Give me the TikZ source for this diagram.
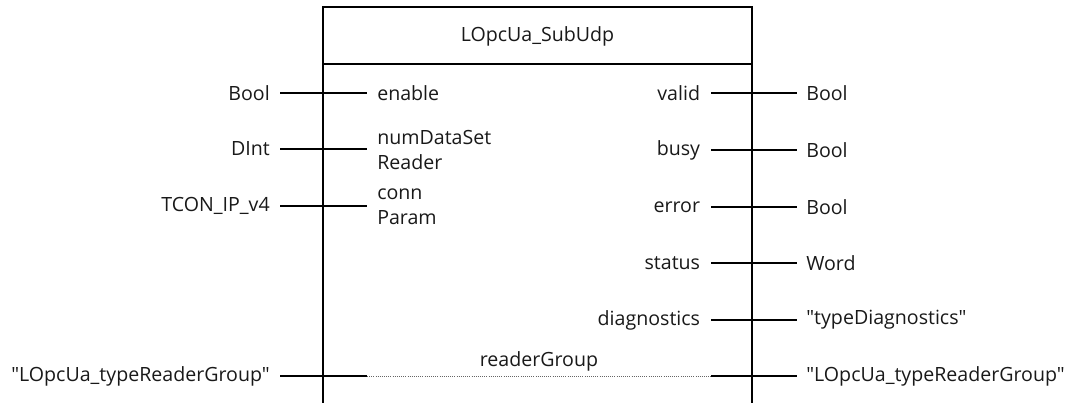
\documentclass[tikz,border=0pt]{standalone}
\usepackage{fontspec}
\setmainfont{Open Sans}[Ligatures=TeXOff]
\begin{document}
\begin{tikzpicture}[x=0.75pt,y=-0.75pt,
  every node/.style={font=\fontsize{14.7}{19}\selectfont, text=black!90},
  typeL/.style={anchor=east, inner xsep=7.5pt, inner ysep=0pt},
  typeR/.style={anchor=west, inner xsep=6.8pt, inner ysep=0pt},
  pinL/.style={anchor=west, inner xsep=7.5pt, inner ysep=0pt, align=left},
  pinR/.style={anchor=east, inner xsep=8pt, inner ysep=0pt, align=right},
  wire/.style={line width=0.8pt},
  frame/.style={line width=0.9pt}]
\useasboundingbox (0,0) rectangle (1072,403);

% block frame, open at the bottom
\draw[frame] (323,403) -- (323,7) -- (752,7) -- (752,403);
\draw[frame] (323,64) -- (752,64);
\node (title) at (537.5,36) {LOpcUa\_SubUdp};

% inputs
\node[typeL] (tEnable) at (280,93) {Bool};
\node[pinL]  (pEnable) at (367,93) {enable};
\node[typeL] (tNum) at (280,149) {DInt};
\node[pinL]  (pNum) at (367,150) {numDataSet\\Reader};
\node[typeL] (tConn) at (280,206) {TCON\_IP\_v4};
\node[pinL]  (pConn) at (367,207) {conn\\Param};

\draw[wire] (tEnable.east) -- (pEnable.west);
\draw[wire] (tNum.east) -- (pNum.west |- tNum.east);
\draw[wire] (tConn.east) -- (pConn.west |- tConn.east);

% outputs
\node[pinR]  (pValid) at (711,93) {valid};
\node[typeR] (tValid) at (797,93) {Bool};
\node[pinR]  (pBusy) at (711,150) {busy};
\node[typeR] (tBusy) at (797,150) {Bool};
\node[pinR]  (pError) at (711,207) {error};
\node[typeR] (tError) at (797,207) {Bool};
\node[pinR]  (pStatus) at (711,263) {status};
\node[typeR] (tStatus) at (797,263) {Word};
\node[pinR]  (pDiag) at (711,320) {diagnostics};
\node[typeR] (tDiag) at (797,320) {"typeDiagnostics"};

\draw[wire] (pValid.east) -- (tValid.west);
\draw[wire] (pBusy.east) -- (tBusy.west);
\draw[wire] (pError.east) -- (tError.west);
\draw[wire] (pStatus.east) -- (tStatus.west);
\draw[wire] (pDiag.east) -- (tDiag.west);

% in/out parameter
\node[typeL] (tRgIn) at (280,376) {"LOpcUa\_typeReaderGroup"};
\node[typeR] (tRgOut) at (797,376) {"LOpcUa\_typeReaderGroup"};
\coordinate (rgIn) at (367,376);
\coordinate (rgOut) at (711,376);
\draw[wire] (tRgIn.east) -- (rgIn);
\draw[line width=0.6pt, black!60, densely dotted] (rgIn) -- node[above=3pt, inner sep=0pt] (pRg) {readerGroup} (rgOut);
\draw[wire] (rgOut) -- (tRgOut.west);
\end{tikzpicture}
\end{document}
